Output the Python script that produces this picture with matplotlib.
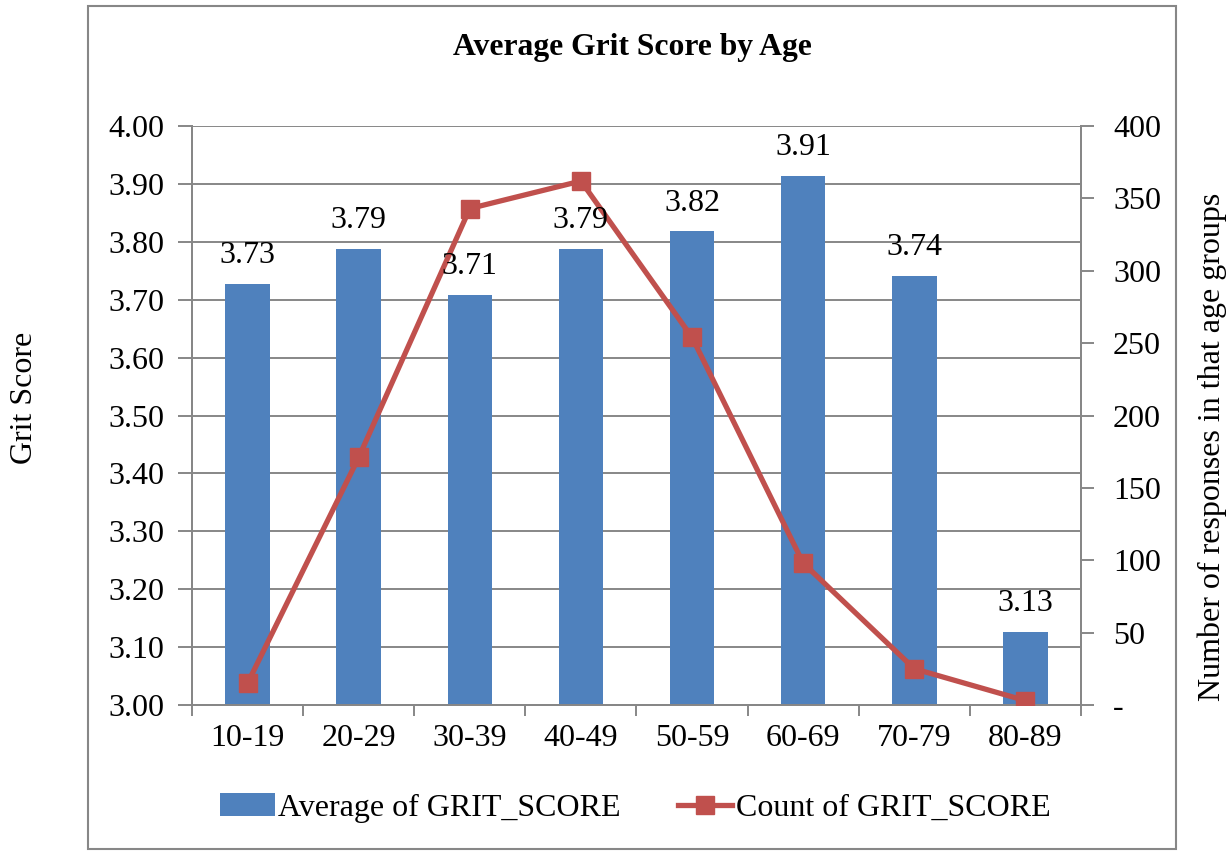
import numpy as np
import matplotlib.pyplot as plt
from matplotlib.patches import Rectangle

plt.rcParams['font.family'] = ['Liberation Serif', 'DejaVu Serif']

# Data
age_groups = ['10-19', '20-29', '30-39', '40-49', '50-59', '60-69', '70-79', '80-89']
avg_grit = [3.727, 3.788, 3.708, 3.788, 3.818, 3.914, 3.741, 3.126]
count_grit = [15, 171, 343, 362, 254, 98, 25, 3]
left_ticks = [3.00, 3.10, 3.20, 3.30, 3.40, 3.50, 3.60, 3.70, 3.80, 3.90, 4.00]
right_ticks = [0, 50, 100, 150, 200, 250, 300, 350, 400]

blue = '#4F81BD'
red = '#C0504D'
gray = '#878787'
fs = 23

fig = plt.figure(figsize=(12.29, 8.51), dpi=100)
ax = fig.add_axes([0.1562, 0.1716, 0.7234, 0.6803])
ax2 = ax.twinx()

x = np.arange(len(age_groups))
ax.bar(x, avg_grit, width=0.4, color=blue, zorder=2)
ax.set_ylim(3.0, 4.0)
ax.set_xlim(-0.5, len(age_groups) - 0.5)
ax.set_yticks(left_ticks)
ax.set_yticklabels(['%.2f' % v for v in left_ticks], fontsize=fs)
ax.yaxis.grid(True, color=gray, linewidth=1.4, zorder=0)
ax.set_axisbelow(True)

# x ticks: labels at centres, tick marks at the boundaries
ax.set_xticks(x)
ax.set_xticklabels(age_groups, fontsize=fs)
ax.set_xticks(np.arange(-0.5, len(age_groups)), minor=True)
ax.tick_params(axis='x', which='major', length=0, pad=14)
ax.tick_params(axis='x', which='minor', length=8, width=1.4, color=gray)
ax.tick_params(axis='y', length=10, width=1.4, color=gray, pad=10)

for xi, v in zip(x, avg_grit):
    ax2.annotate('%.2f' % v, xy=(xi, (v - 3.0) * 400), xytext=(0, 10),
                 textcoords='offset points', ha='center', va='bottom',
                 fontsize=fs, zorder=5)

ax2.plot(x, count_grit, color=red, linewidth=3.8, marker='s',
         markersize=13.5, zorder=4)
ax2.set_ylim(0, 400)
ax2.set_yticks(right_ticks)
ax2.set_yticklabels(['-' if v == 0 else str(v) for v in right_ticks], fontsize=fs)
ax2.tick_params(axis='y', length=9, width=1.4, color=gray, pad=14)

for a in (ax, ax2):
    a.spines['top'].set_visible(False)
    for s in ('left', 'right', 'bottom'):
        a.spines[s].set_color(gray)
        a.spines[s].set_linewidth(1.4)

# Outer chart frame
fig.patches.append(Rectangle((0.0716, 0.0024), 0.8854, 0.9906, transform=fig.transFigure,
                             fill=False, edgecolor=gray, linewidth=1.5))

fig.text(0.5145, 0.944, 'Average Grit Score by Age', ha='center', va='center',
         fontsize=22.8, fontweight='bold')
fig.text(0.0203, 0.533, 'Grit Score', rotation=90, ha='center', va='center', fontsize=fs)
fig.text(0.9862, 0.475, 'Number of responses in that age groups', rotation=90,
         ha='center', va='center', fontsize=fs)

h1 = ax.bar([0], [0], color=blue, label='Average of GRIT_SCORE')
h2, = ax.plot([], [], color=red, linewidth=3.8, marker='s', markersize=13.5,
              label='Count of GRIT_SCORE')
fig.legend([h1, h2], ['Average of GRIT_SCORE', 'Count of GRIT_SCORE'],
           loc='center', bbox_to_anchor=(0.517, 0.0505), ncol=2, frameon=False,
           fontsize=fs, handlelength=1.7, handletextpad=0.1, columnspacing=1.8)

fig.savefig('out.png', dpi=100)
